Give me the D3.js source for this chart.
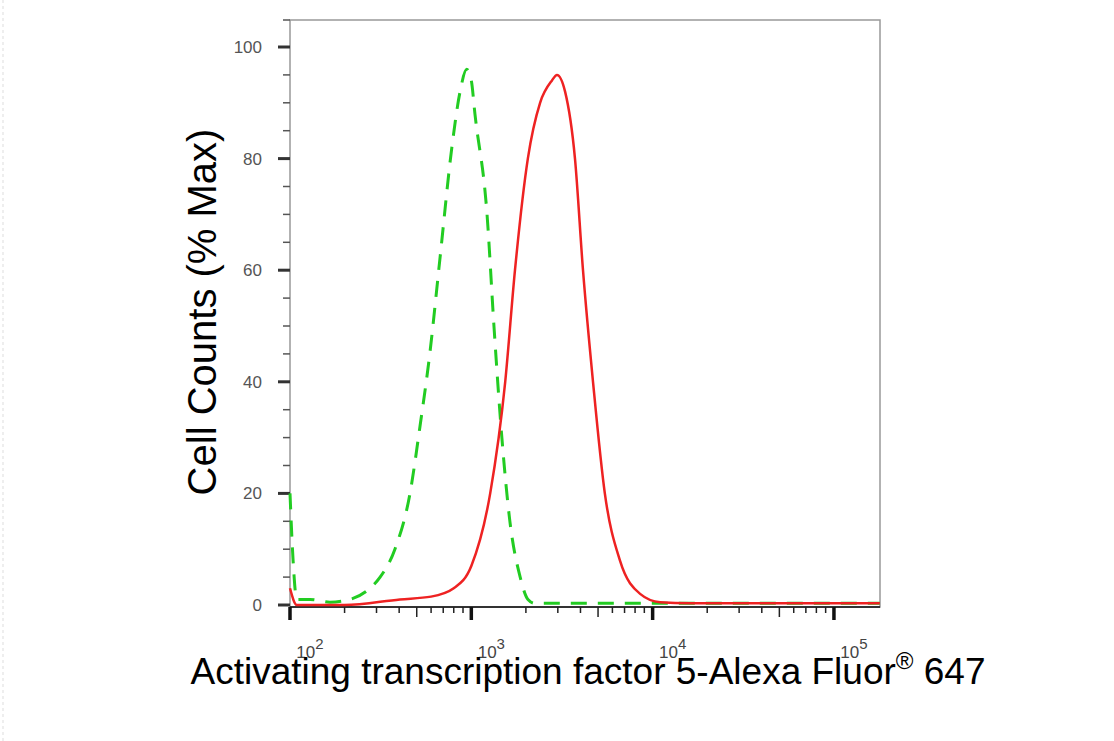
<!DOCTYPE html>
<html><head><meta charset="utf-8">
<script src="https://cdn.jsdelivr.net/npm/d3@7"></script>
<style>body{margin:0;background:#fff}svg{display:block}</style>
</head><body>
<svg id="c" width="1114" height="741"></svg>
<script>
const isoX = [100,104,109,129,166,214,276,314,379,459,521,590,671,781,867,943,1000,1047,1221,1333,1474,1632,1860,2053,2242,3000,10000,50000,179000];
const isoY = [20,8,1,1,0.5,1,3,5,10,20,32,45,62,82,92,96,94,88,70,50,30,15,5,1,0.3,0.3,0.3,0.3,0.3];
const atfX = [100,109,200,404,600,800,1000,1271,1538,1741,2050,2395,2785,2968,3290,3730,4130,4690,5450,6600,8530,11000,16100,50000,179000];
const atfY = [3,0,0,1,1.5,3,7,20,40,60,80,90,94,95,92,80,60,40,20,8,2,0.5,0.3,0.3,0.3];
const yTicks = [0,20,40,60,80,100];
const xDecades = [100,1000,10000,100000];

const svg = d3.select("#c");
const x = d3.scaleLog().domain([100, Math.pow(10,5.254)]).range([290,880]);
const y = d3.scaleLinear().domain([0,100]).range([605,47]);

svg.append("line").attr("x1",3).attr("x2",3).attr("y1",0).attr("y2",741).attr("stroke","#ddd").attr("stroke-dasharray","3,3");

svg.append("rect").attr("x",290).attr("y",20).attr("width",590).attr("height",587)
  .attr("fill","none").attr("stroke","#999").attr("stroke-width",1.5);

const yMinor = d3.range(0,101,5);
svg.selectAll(".ym").data(yMinor).join("line")
  .attr("x1",d=>d%20===0?278:283).attr("x2",290).attr("y1",d=>y(d)).attr("y2",d=>y(d))
  .attr("stroke",d=>d%20===0?"#333":"#555").attr("stroke-width",d=>d%20===0?3:1.5);
svg.append("line").attr("x1",283).attr("x2",290).attr("y1",20).attr("y2",20).attr("stroke","#555").attr("stroke-width",1.5);
svg.selectAll(".yl").data(yTicks).join("text")
  .attr("x",262).attr("y",d=>y(d)+6).attr("text-anchor","end")
  .attr("font-family","Liberation Sans, Arial").attr("font-size",17).attr("fill","#555")
  .text(d=>d);

svg.append("line").attr("x1",290).attr("x2",880).attr("y1",607).attr("y2",607).attr("stroke","#333").attr("stroke-width",2);
const minors = [];
xDecades.forEach(d=>{for(let k=2;k<=9;k++){const v=d*k; if(x(v)<880) minors.push(v);}});
svg.selectAll(".xm").data(minors).join("line")
  .attr("x1",d=>x(d)).attr("x2",d=>x(d)).attr("y1",607).attr("y2",d=>{const k=Math.round(d/Math.pow(10,Math.floor(Math.log10(d)+1e-9)));return k===5?617:613;})
  .attr("stroke","#222").attr("stroke-width",1.5);
svg.selectAll(".xM").data(xDecades).join("line")
  .attr("x1",d=>x(d)).attr("x2",d=>x(d)).attr("y1",607).attr("y2",620)
  .attr("stroke","#111").attr("stroke-width",3.5);
const xl = svg.selectAll(".xl").data(xDecades).join("text")
  .attr("x",d=>x(d)+20).attr("y",658).attr("text-anchor","middle")
  .attr("font-family","Liberation Sans, Arial").attr("font-size",17).attr("fill","#444");
xl.append("tspan").text("10");
xl.append("tspan").attr("dy",-9).attr("font-size",15).text(d=>Math.round(Math.log10(d)));

const line = d3.line().x(d=>x(d[0])).y(d=>y(d[1])).curve(d3.curveMonotoneX);
svg.append("path").datum(isoX.map((v,i)=>[v,isoY[i]])).attr("d",line)
  .attr("fill","none").attr("stroke","#22cc22").attr("stroke-width",3).attr("stroke-dasharray","16,11");
svg.append("path").datum(atfX.map((v,i)=>[v,atfY[i]])).attr("d",line)
  .attr("fill","none").attr("stroke","#ee2222").attr("stroke-width",2.5);

svg.append("text").attr("transform","translate(216,312) rotate(-90)").attr("text-anchor","middle")
  .attr("font-family","Liberation Sans, Arial").attr("font-size",40).attr("fill","#000").text("Cell Counts (% Max)");
const t = svg.append("text").attr("x",588).attr("y",684).attr("text-anchor","middle")
  .attr("font-family","Liberation Sans, Arial").attr("font-size",37).attr("fill","#000");
t.append("tspan").text("Activating transcription factor 5-Alexa Fluor");
t.append("tspan").attr("dy",-15).attr("font-size",24).text("®");
t.append("tspan").attr("dy",15).text(" 647");
</script>
</body></html>
